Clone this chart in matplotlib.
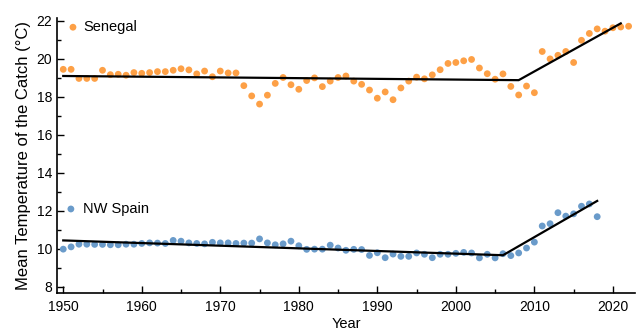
import matplotlib
matplotlib.use("Agg")
import matplotlib.pyplot as plt
from matplotlib.ticker import MultipleLocator

plt.rcParams['font.family'] = ['Liberation Sans', 'DejaVu Sans']

years_sen = list(range(1950, 2023))
temp_sen = [19.45, 19.45, 18.97, 18.97, 18.97, 19.40, 19.17, 19.19, 19.14, 19.28,
            19.24, 19.28, 19.33, 19.33, 19.40, 19.48, 19.42, 19.21, 19.36, 19.06,
            19.36, 19.26, 19.26, 18.59, 18.05, 17.62, 18.09, 18.71, 19.02, 18.64,
            18.40, 18.86, 19.00, 18.54, 18.83, 19.02, 19.10, 18.83, 18.66, 18.36,
            17.93, 18.26, 17.85, 18.47, 18.83, 19.04, 18.95, 19.16, 19.43, 19.76,
            19.81, 19.90, 19.97, 19.52, 19.22, 18.93, 19.21, 18.55, 18.10, 18.57,
            18.22, 20.39, 20.00, 20.19, 20.39, 19.81, 20.98, 21.34, 21.58, 21.46,
            21.64, 21.68, 21.72]

years_spa = list(range(1950, 2019))
temp_spa = [9.98, 10.10, 10.24, 10.24, 10.23, 10.23, 10.21, 10.21, 10.24, 10.24,
            10.28, 10.31, 10.30, 10.28, 10.44, 10.40, 10.31, 10.28, 10.26, 10.34,
            10.31, 10.31, 10.28, 10.30, 10.30, 10.52, 10.31, 10.21, 10.26, 10.40,
            10.16, 9.97, 9.98, 9.98, 10.19, 10.04, 9.92, 9.97, 9.96, 9.65,
            9.79, 9.53, 9.72, 9.60, 9.60, 9.78, 9.71, 9.53, 9.71, 9.71,
            9.76, 9.81, 9.78, 9.52, 9.71, 9.52, 9.74, 9.64, 9.78, 10.04,
            10.35, 11.20, 11.32, 11.90, 11.72, 11.84, 12.24, 12.36, 11.69]

trend_sen_x = [1950, 2008, 2021]
trend_sen_y = [19.10, 18.88, 21.87]
trend_spa_x = [1950, 2006, 2018]
trend_spa_y = [10.44, 9.66, 12.52]

c_sen = '#fda046'
c_spa = '#6a9bca'

fig = plt.figure(figsize=(6.4, 3.32), dpi=100)
ax = fig.add_axes([0.089, 0.118, 0.903, 0.827])

s1 = ax.scatter(years_sen, temp_sen, s=24, color=c_sen, edgecolors='none', zorder=2, label='Senegal')
s2 = ax.scatter(years_spa, temp_spa, s=24, color=c_spa, edgecolors='none', zorder=2, label='NW Spain')
ax.plot(trend_sen_x, trend_sen_y, color='black', lw=1.6, zorder=3)
ax.plot(trend_spa_x, trend_spa_y, color='black', lw=1.6, zorder=3)

ax.set_xlim(1949.2, 2022.8)
ax.set_ylim(7.68, 22.14)
ax.xaxis.set_major_locator(MultipleLocator(10))
ax.xaxis.set_minor_locator(MultipleLocator(5))
ax.yaxis.set_major_locator(MultipleLocator(2))
ax.yaxis.set_minor_locator(MultipleLocator(1))
ax.tick_params(which='both', direction='in', width=1.0, labelsize=10)
ax.tick_params(which='major', length=5)
ax.tick_params(which='minor', length=3)
ax.tick_params(axis='x', pad=5)
for sp in ['top', 'right']:
    ax.spines[sp].set_visible(False)
for sp in ['left', 'bottom']:
    ax.spines[sp].set_linewidth(1.2)

ax.set_xlabel('Year', fontsize=10.5, labelpad=2)
ax.set_ylabel('Mean Temperature of the Catch (°C)', fontsize=12, labelpad=4)

leg1 = ax.legend(handles=[s1], loc='center left', bbox_to_anchor=(0.0176, 0.968),
                 frameon=False, fontsize=10.5, handlelength=0.8, handletextpad=0.3,
                 borderpad=0, borderaxespad=0)
ax.add_artist(leg1)
ax.legend(handles=[s2], loc='center left', bbox_to_anchor=(0.014, 0.306),
          frameon=False, fontsize=10.5, handlelength=0.8, handletextpad=0.42,
          borderpad=0, borderaxespad=0)

fig.savefig('out.png', dpi=100)
